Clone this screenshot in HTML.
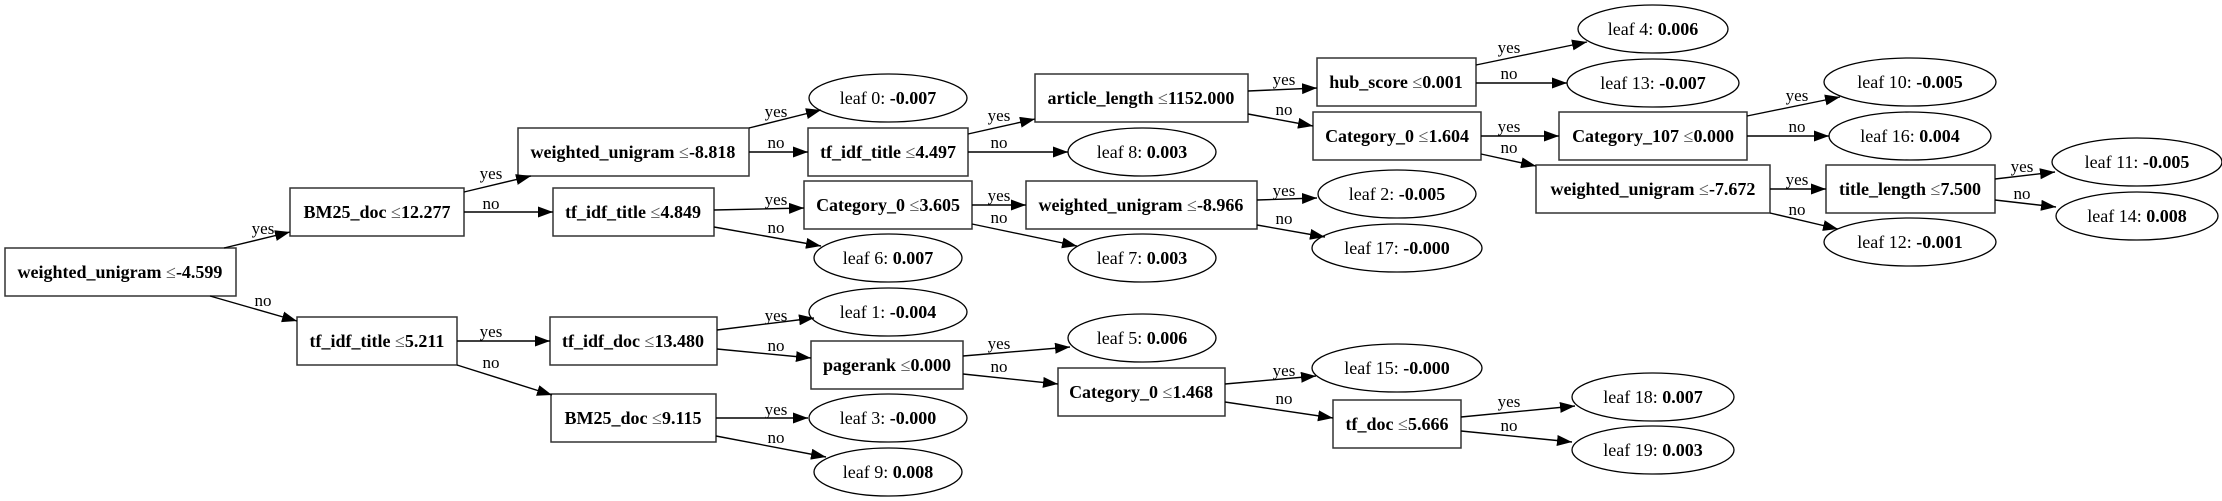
<!DOCTYPE html>
<html><head><meta charset="utf-8"><style>
html,body{margin:0;padding:0;background:#fff;}
svg{display:block;}
text{font-family:"Liberation Serif","Times New Roman",serif;font-size:18px;fill:#000;}
.b{font-weight:bold;}
.le{fill:#555;}
.lbl{font-size:17px;}
</style></head><body>
<svg width="2222" height="501" viewBox="0 0 2222 501" xmlns="http://www.w3.org/2000/svg">
<defs><marker id="a" markerUnits="userSpaceOnUse" markerWidth="16" markerHeight="12" refX="15" refY="5.5" orient="auto"><path d="M0,0 L15,5.5 L0,11 z" fill="#000"/></marker></defs>
<g fill="#fff" stroke="#333" stroke-width="1.5">
<rect x="5" y="248" width="231" height="48"/>
<rect x="290" y="188" width="174" height="48"/>
<rect x="518" y="128" width="231" height="48"/>
<rect x="553" y="188" width="161" height="48"/>
<rect x="297" y="317" width="160" height="48"/>
<rect x="550" y="317" width="167" height="48"/>
<rect x="551" y="394" width="165" height="48"/>
<rect x="808" y="128" width="160" height="48"/>
<rect x="1035" y="74" width="213" height="48"/>
<rect x="1317" y="58" width="159" height="48"/>
<rect x="1313" y="112" width="168" height="48"/>
<rect x="804" y="181" width="168" height="48"/>
<rect x="1026" y="181" width="231" height="48"/>
<rect x="811" y="341" width="152" height="48"/>
<rect x="1058" y="368" width="167" height="48"/>
<rect x="1333" y="400" width="128" height="48"/>
<rect x="1559" y="112" width="188" height="48"/>
<rect x="1536" y="165" width="234" height="48"/>
<rect x="1826" y="165" width="169" height="48"/>
</g>
<g fill="#fff" stroke="#000" stroke-width="1.3">
<ellipse cx="888" cy="98" rx="79" ry="24"/>
<ellipse cx="1142" cy="152" rx="74" ry="24"/>
<ellipse cx="888" cy="258" rx="74" ry="24"/>
<ellipse cx="1142" cy="258" rx="74" ry="24"/>
<ellipse cx="1397" cy="194" rx="79" ry="24"/>
<ellipse cx="1397" cy="248" rx="85" ry="24"/>
<ellipse cx="888" cy="312" rx="79" ry="24"/>
<ellipse cx="1142" cy="338" rx="74" ry="24"/>
<ellipse cx="1397" cy="368" rx="85" ry="24"/>
<ellipse cx="888" cy="418" rx="79" ry="24"/>
<ellipse cx="888" cy="472" rx="74" ry="24"/>
<ellipse cx="1653" cy="29" rx="75" ry="24"/>
<ellipse cx="1653" cy="83" rx="86" ry="24"/>
<ellipse cx="1910" cy="82" rx="86" ry="24"/>
<ellipse cx="1910" cy="136" rx="81" ry="24"/>
<ellipse cx="1910" cy="242" rx="86" ry="24"/>
<ellipse cx="2137" cy="162" rx="85" ry="24"/>
<ellipse cx="2137" cy="216" rx="81" ry="24"/>
<ellipse cx="1653" cy="397" rx="81" ry="24"/>
<ellipse cx="1653" cy="450" rx="81" ry="24"/>
</g>
<g stroke="#000" stroke-width="1.4" marker-end="url(#a)" fill="none">
<line x1="224" y1="248" x2="290" y2="232"/>
<line x1="210" y1="296" x2="297" y2="321"/>
<line x1="464" y1="192" x2="531" y2="176"/>
<line x1="464" y1="212" x2="553" y2="212"/>
<line x1="457" y1="341" x2="550" y2="341"/>
<line x1="457" y1="365" x2="552" y2="395"/>
<line x1="749" y1="128" x2="821" y2="110"/>
<line x1="749" y1="152" x2="808" y2="152"/>
<line x1="714" y1="210" x2="804" y2="208"/>
<line x1="714" y1="227" x2="821" y2="246"/>
<line x1="968" y1="134" x2="1035" y2="119"/>
<line x1="968" y1="152" x2="1068" y2="152"/>
<line x1="972" y1="205" x2="1026" y2="205"/>
<line x1="972" y1="224" x2="1077" y2="246"/>
<line x1="1248" y1="91" x2="1317" y2="88"/>
<line x1="1248" y1="114" x2="1313" y2="126"/>
<line x1="1257" y1="200" x2="1317" y2="198"/>
<line x1="1257" y1="225" x2="1325" y2="237"/>
<line x1="717" y1="330" x2="814" y2="318"/>
<line x1="717" y1="349" x2="811" y2="358"/>
<line x1="716" y1="418" x2="808" y2="418"/>
<line x1="716" y1="436" x2="826" y2="457"/>
<line x1="963" y1="356" x2="1070" y2="347"/>
<line x1="963" y1="374" x2="1058" y2="384"/>
<line x1="1225" y1="384" x2="1316" y2="376"/>
<line x1="1225" y1="402" x2="1333" y2="418"/>
<line x1="1476" y1="65" x2="1587" y2="42"/>
<line x1="1476" y1="83" x2="1567" y2="83"/>
<line x1="1481" y1="136" x2="1559" y2="136"/>
<line x1="1481" y1="154" x2="1536" y2="166"/>
<line x1="1461" y1="417" x2="1575" y2="406"/>
<line x1="1461" y1="431" x2="1572" y2="442"/>
<line x1="1747" y1="116" x2="1840" y2="97"/>
<line x1="1747" y1="136" x2="1829" y2="136"/>
<line x1="1770" y1="189" x2="1826" y2="189"/>
<line x1="1770" y1="213" x2="1838" y2="229"/>
<line x1="1995" y1="179" x2="2055" y2="172"/>
<line x1="1995" y1="200" x2="2056" y2="207"/>
</g>
<g class="lbl" text-anchor="middle">
<text x="263" y="234" class="lbl">yes</text><text x="263" y="306" class="lbl">no</text>
<text x="491" y="179" class="lbl">yes</text><text x="491" y="209" class="lbl">no</text>
<text x="491" y="337" class="lbl">yes</text><text x="491" y="368" class="lbl">no</text>
<text x="776" y="117" class="lbl">yes</text><text x="776" y="148" class="lbl">no</text>
<text x="776" y="205" class="lbl">yes</text><text x="776" y="233" class="lbl">no</text>
<text x="776" y="321" class="lbl">yes</text><text x="776" y="351" class="lbl">no</text>
<text x="776" y="415" class="lbl">yes</text><text x="776" y="443" class="lbl">no</text>
<text x="999" y="121" class="lbl">yes</text><text x="999" y="148" class="lbl">no</text>
<text x="999" y="201" class="lbl">yes</text><text x="999" y="223" class="lbl">no</text>
<text x="999" y="349" class="lbl">yes</text><text x="999" y="372" class="lbl">no</text>
<text x="1284" y="85" class="lbl">yes</text><text x="1284" y="115" class="lbl">no</text>
<text x="1284" y="196" class="lbl">yes</text><text x="1284" y="224" class="lbl">no</text>
<text x="1284" y="376" class="lbl">yes</text><text x="1284" y="404" class="lbl">no</text>
<text x="1509" y="53" class="lbl">yes</text><text x="1509" y="79" class="lbl">no</text>
<text x="1509" y="132" class="lbl">yes</text><text x="1509" y="153" class="lbl">no</text>
<text x="1509" y="407" class="lbl">yes</text><text x="1509" y="431" class="lbl">no</text>
<text x="1797" y="101" class="lbl">yes</text><text x="1797" y="132" class="lbl">no</text>
<text x="1797" y="185" class="lbl">yes</text><text x="1797" y="215" class="lbl">no</text>
<text x="2022" y="172" class="lbl">yes</text><text x="2022" y="199" class="lbl">no</text>
</g>
<g text-anchor="middle">
<text x="120" y="278"><tspan class="b">weighted_unigram </tspan><tspan class="le">≤</tspan><tspan class="b">-4.599</tspan></text>
<text x="377" y="218"><tspan class="b">BM25_doc </tspan><tspan class="le">≤</tspan><tspan class="b">12.277</tspan></text>
<text x="633" y="158"><tspan class="b">weighted_unigram </tspan><tspan class="le">≤</tspan><tspan class="b">-8.818</tspan></text>
<text x="633" y="218"><tspan class="b">tf_idf_title </tspan><tspan class="le">≤</tspan><tspan class="b">4.849</tspan></text>
<text x="377" y="347"><tspan class="b">tf_idf_title </tspan><tspan class="le">≤</tspan><tspan class="b">5.211</tspan></text>
<text x="633" y="347"><tspan class="b">tf_idf_doc </tspan><tspan class="le">≤</tspan><tspan class="b">13.480</tspan></text>
<text x="633" y="424"><tspan class="b">BM25_doc </tspan><tspan class="le">≤</tspan><tspan class="b">9.115</tspan></text>
<text x="888" y="158"><tspan class="b">tf_idf_title </tspan><tspan class="le">≤</tspan><tspan class="b">4.497</tspan></text>
<text x="1141" y="104"><tspan class="b">article_length </tspan><tspan class="le">≤</tspan><tspan class="b">1152.000</tspan></text>
<text x="1396" y="88"><tspan class="b">hub_score </tspan><tspan class="le">≤</tspan><tspan class="b">0.001</tspan></text>
<text x="1397" y="142"><tspan class="b">Category_0 </tspan><tspan class="le">≤</tspan><tspan class="b">1.604</tspan></text>
<text x="888" y="211"><tspan class="b">Category_0 </tspan><tspan class="le">≤</tspan><tspan class="b">3.605</tspan></text>
<text x="1141" y="211"><tspan class="b">weighted_unigram </tspan><tspan class="le">≤</tspan><tspan class="b">-8.966</tspan></text>
<text x="887" y="371"><tspan class="b">pagerank </tspan><tspan class="le">≤</tspan><tspan class="b">0.000</tspan></text>
<text x="1141" y="398"><tspan class="b">Category_0 </tspan><tspan class="le">≤</tspan><tspan class="b">1.468</tspan></text>
<text x="1397" y="430"><tspan class="b">tf_doc </tspan><tspan class="le">≤</tspan><tspan class="b">5.666</tspan></text>
<text x="1653" y="142"><tspan class="b">Category_107 </tspan><tspan class="le">≤</tspan><tspan class="b">0.000</tspan></text>
<text x="1653" y="195"><tspan class="b">weighted_unigram </tspan><tspan class="le">≤</tspan><tspan class="b">-7.672</tspan></text>
<text x="1910" y="195"><tspan class="b">title_length </tspan><tspan class="le">≤</tspan><tspan class="b">7.500</tspan></text>

<text x="888" y="104">leaf 0: <tspan class="b">-0.007</tspan></text>
<text x="1142" y="158">leaf 8: <tspan class="b">0.003</tspan></text>
<text x="888" y="264">leaf 6: <tspan class="b">0.007</tspan></text>
<text x="1142" y="264">leaf 7: <tspan class="b">0.003</tspan></text>
<text x="1397" y="200">leaf 2: <tspan class="b">-0.005</tspan></text>
<text x="1397" y="254">leaf 17: <tspan class="b">-0.000</tspan></text>
<text x="888" y="318">leaf 1: <tspan class="b">-0.004</tspan></text>
<text x="1142" y="344">leaf 5: <tspan class="b">0.006</tspan></text>
<text x="1397" y="374">leaf 15: <tspan class="b">-0.000</tspan></text>
<text x="888" y="424">leaf 3: <tspan class="b">-0.000</tspan></text>
<text x="888" y="478">leaf 9: <tspan class="b">0.008</tspan></text>
<text x="1653" y="35">leaf 4: <tspan class="b">0.006</tspan></text>
<text x="1653" y="89">leaf 13: <tspan class="b">-0.007</tspan></text>
<text x="1910" y="88">leaf 10: <tspan class="b">-0.005</tspan></text>
<text x="1910" y="142">leaf 16: <tspan class="b">0.004</tspan></text>
<text x="1910" y="248">leaf 12: <tspan class="b">-0.001</tspan></text>
<text x="2137" y="168">leaf 11: <tspan class="b">-0.005</tspan></text>
<text x="2137" y="222">leaf 14: <tspan class="b">0.008</tspan></text>
<text x="1653" y="403">leaf 18: <tspan class="b">0.007</tspan></text>
<text x="1653" y="456">leaf 19: <tspan class="b">0.003</tspan></text>
</g>
</svg>
</body></html>
